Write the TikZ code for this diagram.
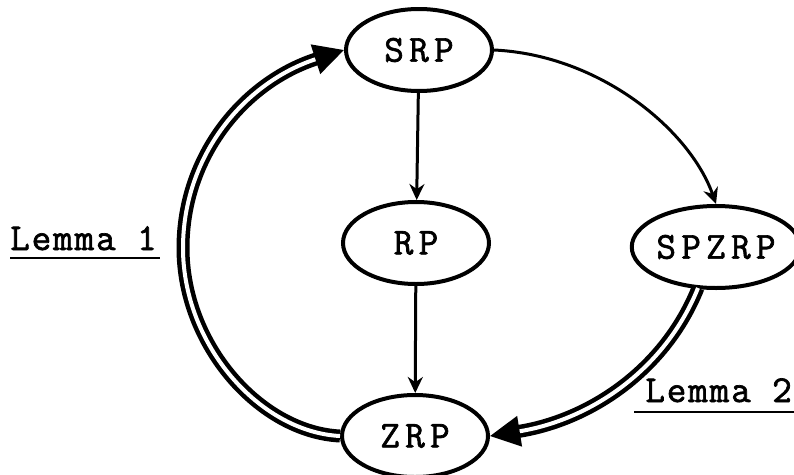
\documentclass[tikz,border=0pt]{standalone}
\usepackage{fontspec}
\newfontfamily\statefont{Latin Modern Mono}[FakeBold=1.8,LetterSpace=14]
\newfontfamily\lemmafont{Latin Modern Mono}[FakeBold=1.8,LetterSpace=5]
\usetikzlibrary{arrows.meta,shapes.geometric}
\begin{document}
\begin{tikzpicture}[x=1pt,y=-1pt,
  state/.style={draw,line width=4pt,ellipse,minimum width=146pt,minimum height=82pt,inner sep=0pt,
    font=\statefont\fontsize{38}{38}\selectfont},
  flow/.style={line width=3pt,-{Stealth[length=16pt,width=15pt]}},
  proof/.style={double,line width=4.5pt,double distance=4pt,-{Triangle[length=30pt,width=30pt]}},
  lemma/.style={font=\lemmafont\fontsize{38}{38}\selectfont,inner sep=0pt}]
\useasboundingbox (0,0) rectangle (794,474);
\node[state] (srp) at (419,50) {SRP};
\node[state] (rp) at (416,243) {RP};
\node[state,minimum width=150pt] (spz) at (716,247) {SPZRP};
\node[state] (zrp) at (415,436) {ZRP};
\draw[flow] (srp) -- (rp);
\draw[flow] (rp) -- (zrp);
\draw[flow] (srp.east) .. controls (600,55) and (690,130) .. (spz.north);
\coordinate (bend) at (183,248);
\draw[proof] (zrp.west) .. controls (260,432) and (183,345) .. (bend)
  .. controls (183,155) and (245,82) .. (srp.west);
\draw[proof] (spz.south) ++(-18,-2) coordinate (spzs)
  (spzs) .. controls (665,370) and (590,420) .. (zrp.east);
\node[lemma,anchor=base west] (l1) at (10,250) {Lemma 1};
\draw[line width=2pt] (l1.base west) ++(0,8) -- ++(150,0);
\node[lemma,anchor=base east] (l2) at (792,402) {Lemma 2};
\draw[line width=2pt] (l2.base east) ++(2,10) -- ++(-160,0);
\end{tikzpicture}
\end{document}
